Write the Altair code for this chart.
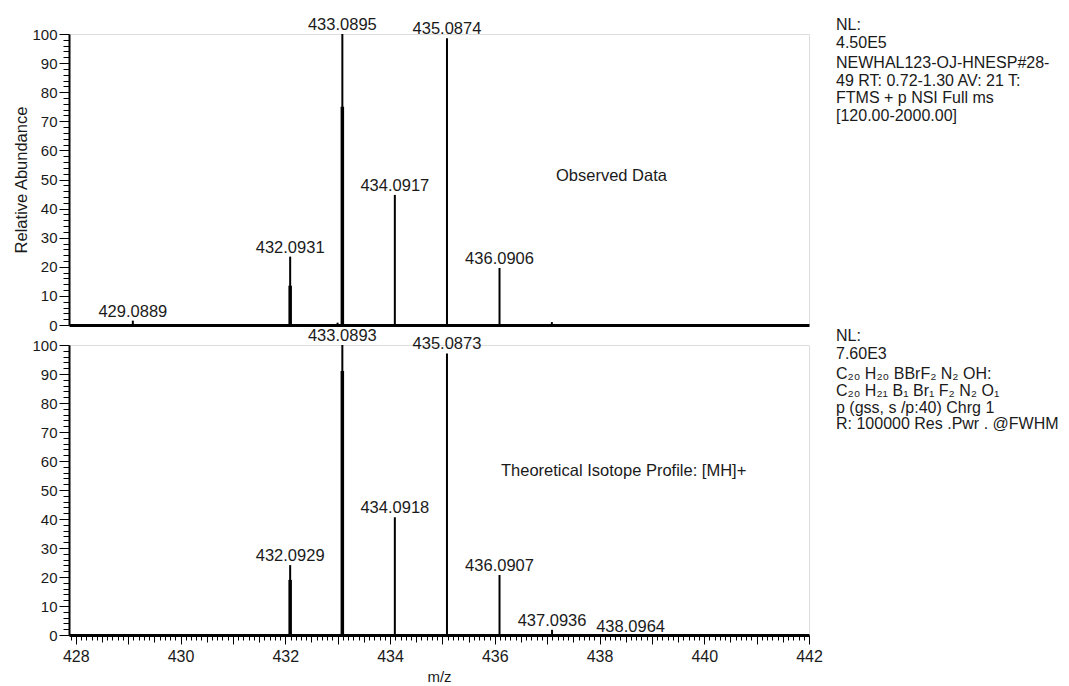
import altair as alt
import pandas as pd

# ---- data ----
obs_mz = [429.0889, 432.0931, 432.9980, 433.0895, 434.0917, 435.0874, 436.0906, 437.0900]
obs_ab = [1.5, 23.5, 0.8, 100.0, 44.7, 98.5, 19.6, 1.0]
obs_lbl = ["429.0889", "432.0931", "", "433.0895", "434.0917", "435.0874", "436.0906", ""]
# lower, heavier part of the two strongest observed sticks
obs_sh_mz = [432.0931, 433.0895]
obs_sh_ab = [13.5, 75.0]

theo_mz = [432.0929, 433.0893, 434.0918, 435.0873, 436.0907, 437.0936, 438.0964]
theo_ab = [24.1, 100.0, 40.6, 97.1, 20.7, 1.8, 0.3]
theo_lbl = ["432.0929", "433.0893", "434.0918", "435.0873", "436.0907", "437.0936", "438.0964"]
theo_sh_mz = [432.0929, 433.0893]
theo_sh_ab = [19.0, 91.0]

x_ticks = [round(427.9 + 0.1 * i, 1) for i in range(142)]
y_ticks = list(range(0, 101, 2))

top_nl = ["NL:", "4.50E5"]
top_info = ["NEWHAL123-OJ-HNESP#28-", "49  RT: 0.72-1.30  AV: 21 T:",
            "FTMS + p NSI Full ms", "[120.00-2000.00]"]
bot_nl = ["NL:", "7.60E3"]
bot_info = ["C\u2082\u2080 H\u2082\u2080 BBrF\u2082 N\u2082 OH:",
            "C\u2082\u2080 H\u2082\u2081 B\u2081 Br\u2081 F\u2082 N\u2082 O\u2081",
            "p (gss, s /p:40) Chrg 1", "R: 100000 Res .Pwr . @FWHM"]
top_note = "Observed Data"
bot_note = "Theoretical Isotope Profile: [MH]+"

FONT = "Liberation Sans"
TXT = "#1a1a1a"
W = 740
H_TOP = 291
H_BOT = 290

xscale = alt.Scale(domain=[427.87, 442.0], nice=False, zero=False)
yscale = alt.Scale(domain=[0, 100], nice=False)

y_axis_common = dict(
    values=y_ticks,
    tickCount=1000,
    labelExpr="datum.value % 10 === 0 ? format(datum.value, 'd') : ''",
    labelOverlap=False,
    tickSize={"condition": {"test": "datum.value % 10 === 0", "value": 10}, "value": 6},
    tickColor="black", tickWidth=1,
    domainColor="black", domainWidth=2,
    labelFont=FONT, labelFontSize=15, labelColor=TXT, labelPadding=2,
    grid=False,
)

top_axis_y = alt.Axis(title="Relative Abundance", titleFont=FONT, titleFontSize=16.5,
                      titleFontWeight="normal", titleColor=TXT, titlePadding=2,
                      **y_axis_common)
bot_axis_y = alt.Axis(title="", **y_axis_common)

top_axis_x = alt.Axis(title="", labels=False, ticks=False, grid=False,
                      domainColor="black", domainWidth=3)
bot_axis_x = alt.Axis(
    title="m/z", titleFont=FONT, titleFontSize=15, titleFontWeight="normal",
    titleColor=TXT, titlePadding=5,
    values=x_ticks,
    tickCount=1000,
    labelOverlap=False,
    labelFlush=False,
    labelExpr="abs(datum.value/2 - round(datum.value/2)) < 0.001 ? format(round(datum.value), 'd') : ''",
    tickSize={"condition": [
        {"test": "abs(datum.value - round(datum.value)) < 0.001", "value": 9},
        {"test": "abs(datum.value*2 - round(datum.value*2)) < 0.001", "value": 7}],
        "value": 5},
    tickColor="black", tickWidth=1,
    domainColor="black", domainWidth=3,
    labelFont=FONT, labelFontSize=16, labelColor=TXT, labelPadding=4,
    grid=False,
)

obs = pd.DataFrame({"mz": obs_mz, "ab": obs_ab, "lbl": obs_lbl})
obs_sh = pd.DataFrame({"mz": obs_sh_mz, "ab": obs_sh_ab})
theo = pd.DataFrame({"mz": theo_mz, "ab": theo_ab, "lbl": theo_lbl})
theo_sh = pd.DataFrame({"mz": theo_sh_mz, "ab": theo_sh_ab})
one = pd.DataFrame({"k": [0]})


def panel(df, sh, height, xaxis, yaxis, nl, info, info_lh, note, note_x, note_y, far_label):
    base = alt.Chart(df)
    sticks = base.mark_rule(color="black", strokeWidth=2).encode(
        x=alt.X("mz:Q", scale=xscale, axis=xaxis),
        y=alt.Y("ab:Q", scale=yscale, axis=yaxis),
        y2=alt.datum(0),
    )
    shoulders = alt.Chart(sh).mark_rule(color="black", strokeWidth=3.5).encode(
        x="mz:Q", y="ab:Q", y2=alt.datum(0)
    )
    labels = base.mark_text(font=FONT, fontSize=16.5, color=TXT, baseline="alphabetic",
                            align="center", dy=-4).encode(
        x="mz:Q", y="ab:Q", text="lbl:N"
    ).transform_filter("datum.mz < 438")
    layers = [sticks, shoulders, labels]
    if far_label:
        layers.append(base.mark_text(font=FONT, fontSize=16.5, color=TXT, baseline="alphabetic",
                                     align="center", dy=-2, dx=26).encode(
            x="mz:Q", y="ab:Q", text="lbl:N"
        ).transform_filter("datum.mz > 438"))
    nl_txt = alt.Chart(one).mark_text(font=FONT, fontSize=16, color=TXT, align="left",
                                      baseline="alphabetic", lineHeight=18).encode(
        x=alt.value(767), y=alt.value(-4), text=alt.value(nl))
    info_txt = alt.Chart(one).mark_text(font=FONT, fontSize=16, color=TXT, align="left",
                                        baseline="alphabetic", lineHeight=info_lh).encode(
        x=alt.value(767), y=alt.value(34), text=alt.value(info))
    note_txt = alt.Chart(one).mark_text(font=FONT, fontSize=16.5, color=TXT, align="left",
                                        baseline="middle").encode(
        x=alt.value(note_x), y=alt.value(note_y), text=alt.value(note))
    layers += [nl_txt, info_txt, note_txt]
    return alt.layer(*layers).properties(width=W, height=height)


top = panel(obs, obs_sh, H_TOP, top_axis_x, top_axis_y, top_nl, top_info, 17.5,
            top_note, 487, 142, False)
bot = panel(theo, theo_sh, H_BOT, bot_axis_x, bot_axis_y, bot_nl, bot_info, 16.8,
            bot_note, 432, 126, True)

chart = alt.vconcat(top, bot, spacing=20, bounds="flush").properties(
    padding={"left": 5, "top": 8, "right": 0, "bottom": 0}
).configure_view(strokeWidth=0).configure(background="white")

chart.save("out.html", embed_options={"renderer": "svg", "actions": False})
